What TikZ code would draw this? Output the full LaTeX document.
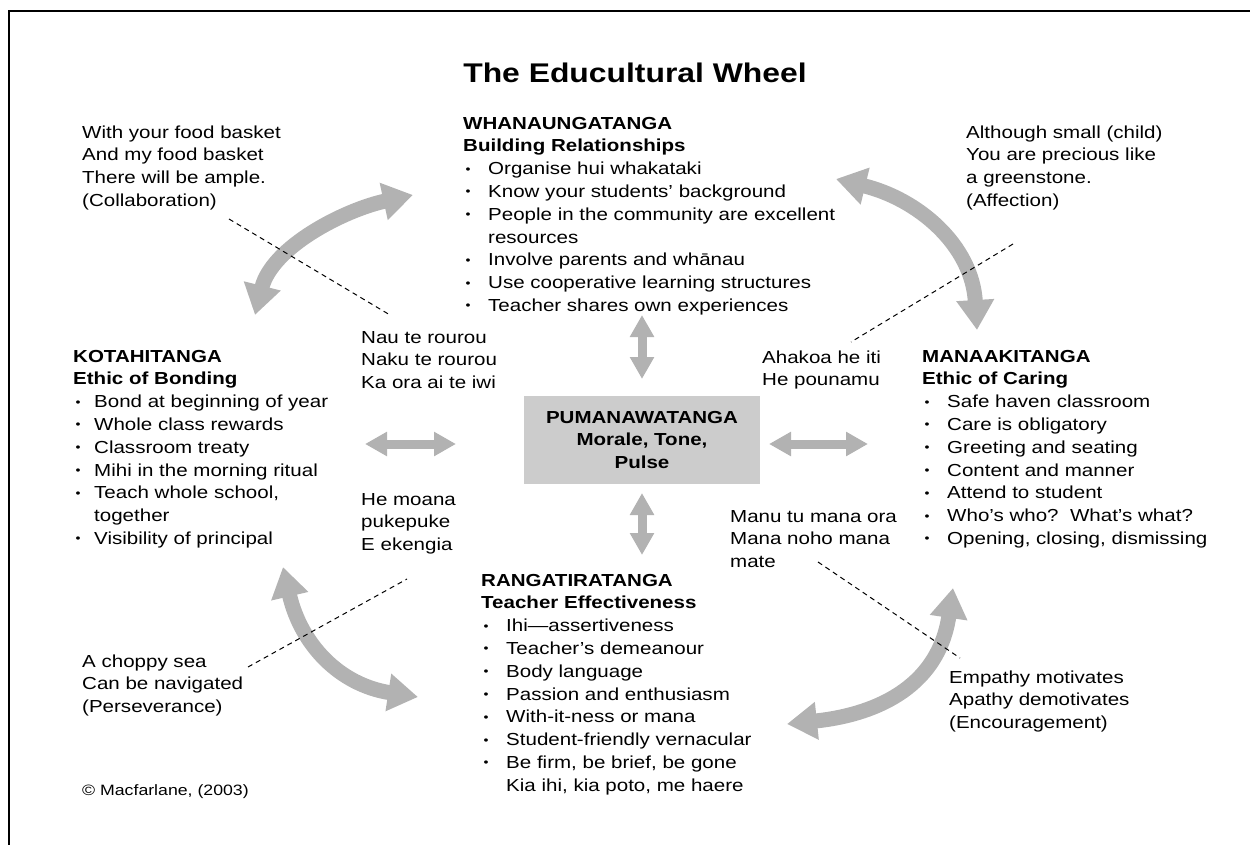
\documentclass[tikz,border=0pt]{standalone}
\usepackage{fontspec}
\setmainfont[FakeStretch=1.18]{Liberation Sans}
\usetikzlibrary{arrows.meta}
\definecolor{arrowgray}{RGB}{178,178,178}
\definecolor{boxgray}{RGB}{204,204,204}
\newcommand\bul[1][25pt]{\makebox[#1][l]{\hspace{2.5pt}\raisebox{1.5pt}{\fontsize{12}{12}\selectfont\textbullet}}}

\begin{document}
\begin{tikzpicture}[x=1pt,y=-1pt,
    txt/.style={anchor=base west,inner sep=0pt,align=left,font=\fontsize{17.4}{22.8}\selectfont},
    bigarc/.style={draw=arrowgray,line width=15pt,{Triangle[length=30pt,width=36pt]}-{Triangle[length=30pt,width=36pt]}},
    smallarr/.style={draw=arrowgray,line width=9pt,{Triangle[length=22pt,width=23pt]}-{Triangle[length=22pt,width=23pt]}},
    proverbline/.style={dash pattern=on 5pt off 4pt,line width=1pt}]
    \useasboundingbox (0,0) rectangle (1250,845);
    \draw[line width=2.5pt] (9,845) -- (9,11) -- (1250,11);

    \node[anchor=base,inner sep=0pt,font=\fontsize{27}{32}\selectfont\bfseries] (title) at (635,83) {The Educultural Wheel};

    \node[fill=boxgray,minimum width=236pt,minimum height=88pt,align=center,
          font=\fontsize{17.4}{22.8}\selectfont\bfseries] (pumana) at (642,440)
          {PUMANAWATANGA\\Morale, Tone,\\Pulse};

    % nodes sit on the baseline of their last line
    \node[txt] (whana) at (463,311.4) {\textbf{WHANAUNGATANGA}\\\textbf{Building Relationships}\\
        \bul Organise hui whakataki\\\bul Know your students’ background\\
        \bul People in the community are excellent\\\hspace*{25pt}resources\\
        \bul Involve parents and whānau\\\bul Use cooperative learning structures\\
        \bul Teacher shares own experiences};
    \node[txt] (kota) at (73,544.4) {\textbf{KOTAHITANGA}\\\textbf{Ethic of Bonding}\\
        \bul[21pt]Bond at beginning of year\\\bul[21pt]Whole class rewards\\
        \bul[21pt]Classroom treaty\\\bul[21pt]Mihi in the morning ritual\\
        \bul[21pt]Teach whole school,\\\hspace*{21pt}together\\
        \bul[21pt]Visibility of principal};
    \node[txt] (manaaki) at (922,544.4) {\textbf{MANAAKITANGA}\\\textbf{Ethic of Caring}\\
        \bul Safe haven classroom\\\bul Care is obligatory\\\bul Greeting and seating\\
        \bul Content and manner\\\bul Attend to student\\
        \bul Who’s who?\ \ What’s what?\\\bul Opening, closing, dismissing};
    \node[txt] (ranga) at (481,791.2) {\textbf{RANGATIRATANGA}\\\textbf{Teacher Effectiveness}\\
        \bul Ihi—assertiveness\\\bul Teacher’s demeanour\\\bul Body language\\
        \bul Passion and enthusiasm\\\bul With-it-ness or mana\\
        \bul Student-friendly vernacular\\\bul Be firm, be brief, be gone\\
        \hspace*{25pt}Kia ihi, kia poto, me haere};

    \node[txt] (provtl) at (82,206.4) {With your food basket\\And my food basket\\There will be ample.\\(Collaboration)};
    \node[txt] (provtr) at (966,206.4) {Although small (child)\\You are precious like\\a greenstone.\\(Affection)};
    \node[txt] (nau) at (361,388.6) {Nau te rourou\\Naku te rourou\\Ka ora ai te iwi};
    \node[txt] (ahakoa) at (762,385.8) {Ahakoa he iti\\He pounamu};
    \node[txt] (moana) at (361,550.6) {He moana\\pukepuke\\E ekengia};
    \node[txt] (manu) at (730,567.6) {Manu tu mana ora\\Mana noho mana\\mate};
    \node[txt] (provbl) at (82,712.6) {A choppy sea\\Can be navigated\\(Perseverance)};
    \node[txt] (provbr) at (949,728.6) {Empathy motivates\\Apathy demotivates\\(Encouragement)};
    \node[txt,font=\fontsize{15}{18}\selectfont] (copy) at (82,795) {© Macfarlane, (2003)};

    % arrows round the wheel
    \coordinate (tl1) at (255,315); \coordinate (tl2) at (413,195);
    \coordinate (tr1) at (836,179); \coordinate (tr2) at (977,330);
    \coordinate (bl1) at (283,567); \coordinate (bl2) at (418,697);
    \coordinate (br1) at (787,724); \coordinate (br2) at (953,588);
    \draw[bigarc] (tl1) .. controls (272,247) and (344,210) .. (tl2);
    \draw[bigarc] (tr1) .. controls (918,199) and (972,245) .. (tr2);
    \draw[bigarc] (bl1) .. controls (301,645) and (340,685) .. (bl2);
    \draw[bigarc] (br1) .. controls (882,714) and (939,683) .. (br2);

    % arrows to the centre
    \coordinate (up1) at (642,315); \coordinate (up2) at (642,379);
    \coordinate (dn1) at (642,493); \coordinate (dn2) at (642,555);
    \coordinate (lf1) at (365,444); \coordinate (lf2) at (456,444);
    \coordinate (rt1) at (769,444); \coordinate (rt2) at (868,444);
    \draw[smallarr] (up1) -- (up2);
    \draw[smallarr] (dn1) -- (dn2);
    \draw[smallarr] (lf1) -- (lf2);
    \draw[smallarr] (rt1) -- (rt2);

    \coordinate (dtl1) at (229,219); \coordinate (dtl2) at (390,315);
    \coordinate (dtr1) at (1013,244); \coordinate (dtr2) at (851,342);
    \coordinate (dbl1) at (248,667); \coordinate (dbl2) at (407,579);
    \coordinate (dbr1) at (818,562); \coordinate (dbr2) at (960,658);
    \draw[proverbline] (dtl1) -- (dtl2);
    \draw[proverbline] (dtr1) -- (dtr2);
    \draw[proverbline] (dbl1) -- (dbl2);
    \draw[proverbline] (dbr1) -- (dbr2);
\end{tikzpicture}
\end{document}
